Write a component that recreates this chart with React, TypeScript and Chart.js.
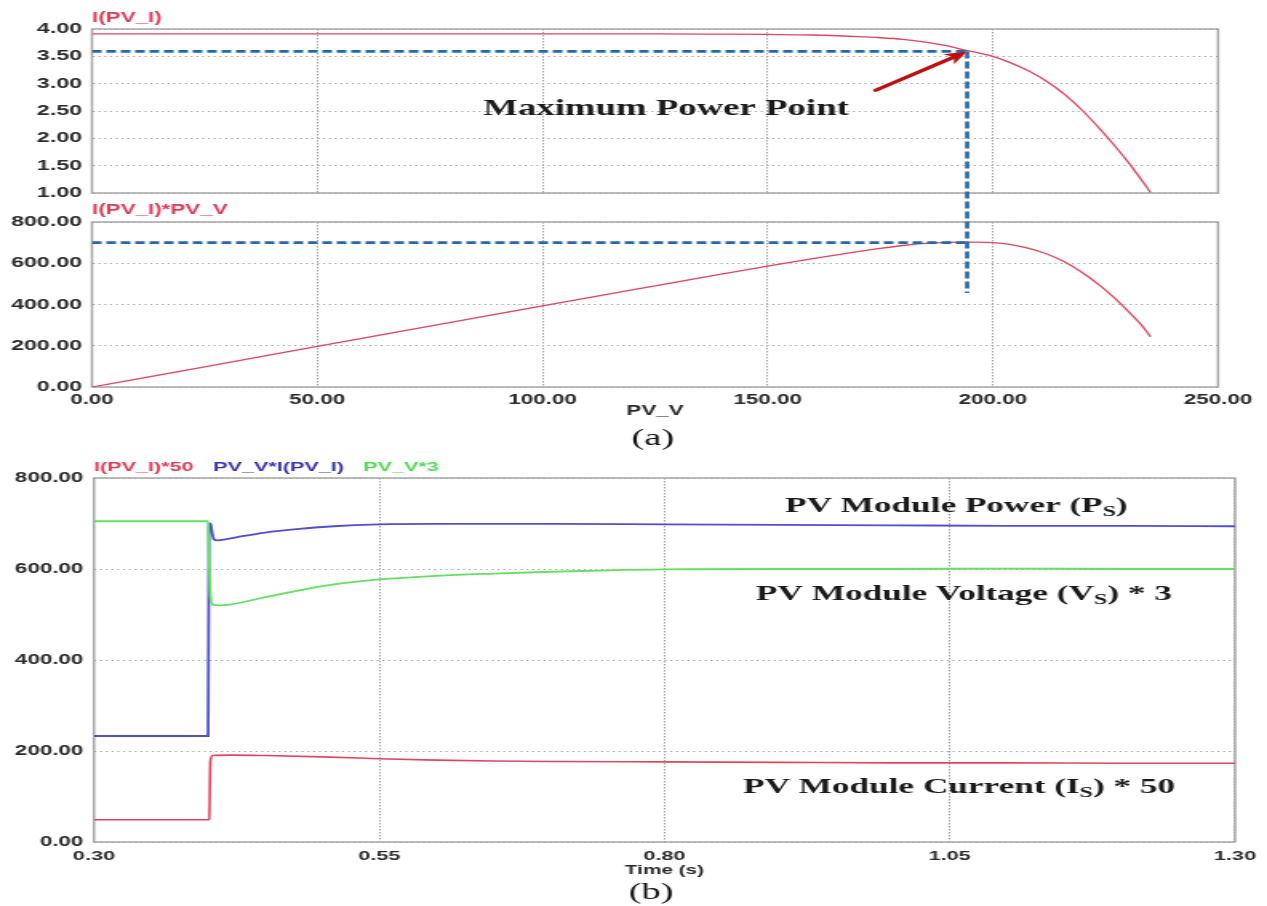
import React, { useEffect, useRef } from 'react';
import { Chart, registerables } from 'chart.js';

Chart.register(...registerables);

// The original figure is horizontally stretched; the canvases are drawn at a
// narrower internal width and displayed at the full page width.
const OUT_W = 1267;
const H = 906;
const W = 792;
const SX = OUT_W / W;
const px = (xRef: number) => xRef / SX;

// ---------------- panel (a): I-V and P-V characteristic ----------------
const PV_V = [0, 25, 50, 75, 100, 125, 140, 150, 160, 170, 175, 180, 185, 190, 194, 197, 200, 204, 208, 212, 216, 220, 224, 227, 230, 233, 235];
const PV_I = [3.91, 3.91, 3.91, 3.91, 3.91, 3.91, 3.905, 3.9, 3.89, 3.86, 3.84, 3.81, 3.76, 3.69, 3.61, 3.56, 3.5, 3.38, 3.23, 3.04, 2.8, 2.5, 2.15, 1.87, 1.57, 1.24, 1.01];
const PV_P = [0, 98, 197, 295, 393, 490, 548, 586, 622, 656, 672, 686, 696, 701, 702, 702, 700, 690, 672, 645, 606, 553, 488, 432, 368, 300, 244];
const V_TICKS = [0, 50, 100, 150, 200, 250];
const I_TICKS = [1, 1.5, 2, 2.5, 3, 3.5, 4];
const P_TICKS = [0, 200, 400, 600, 800];
const MPP_V = 194.3;
const MPP_I = 3.59;
const MPP_P = 700;
const MPP_DROP_P = 456;
const ARROW_TAIL_V = 174;
const ARROW_TAIL_I = 2.88;

// ---------------- panel (b): start-up transients ----------------
const T_CUR = [0.3, 0.4, 0.401, 0.402, 0.404, 0.42, 0.45, 0.5, 0.55, 0.6, 0.65, 0.7, 0.8, 0.9, 1.0, 1.1, 1.2, 1.3];
const CUR50 = [49, 49, 50, 178, 190, 191, 190, 187, 183, 180, 178, 177, 176, 175, 174, 174, 173, 173];
const T_POW = [0.3, 0.4, 0.4008, 0.402, 0.4035, 0.405, 0.408, 0.415, 0.43, 0.45, 0.48, 0.51, 0.55, 0.6, 0.7, 0.8, 0.9, 1.0, 1.1, 1.2, 1.3];
const POW = [233, 233, 690, 700, 680, 666, 663, 665, 672, 680, 688, 694, 698, 699, 699, 698, 697, 696, 695, 695, 694];
const T_VOL = [0.3, 0.4, 0.4008, 0.402, 0.404, 0.41, 0.42, 0.45, 0.48, 0.51, 0.55, 0.6, 0.65, 0.7, 0.75, 0.8, 0.9, 1.0, 1.1, 1.2, 1.3];
const VOL3 = [705, 705, 640, 540, 522, 520, 522, 538, 553, 566, 577, 585, 590, 594, 597, 599, 600, 600, 601, 600, 600];
const T_TICKS = [0.3, 0.55, 0.8, 1.05, 1.3];
const B_TICKS = [0, 200, 400, 600, 800];

// ---------------- styles ----------------
const SANS = "'Liberation Sans', Arial, sans-serif";
const SERIF = "'Liberation Serif', 'Times New Roman', serif";
const RED_LINE = '#e0455e';
const BLUE_LINE = '#4f4fcf';
const GREEN_LINE = '#63df63';
const DASH_BLUE = '#2467ad';
const ARROW_RED = '#bf0d0d';
const TITLE_RED = '#e23a55';
const TITLE_BLUE = '#3535b0';
const TITLE_GREEN = '#4fdc4f';
const TICK = '#2b2b2b';
const GRID = '#a4a4a4';
const BOX = '#a6a6a6';

type Seg = { t: string; sub?: boolean };

function drawSegs(ctx: CanvasRenderingContext2D, x: number, y: number, segs: Seg[], size: number, family: string, weight: string, color: string, align: 'left' | 'center' = 'left') {
  ctx.save();
  ctx.fillStyle = color;
  ctx.textBaseline = 'alphabetic';
  ctx.textAlign = 'left';
  const fontOf = (s: Seg) => `${weight} ${s.sub ? Math.round(size * 0.68) : size}px ${family}`;
  let total = 0;
  for (const s of segs) {
    ctx.font = fontOf(s);
    total += ctx.measureText(s.t).width;
  }
  let cx = align === 'center' ? x - total / 2 : x;
  for (const s of segs) {
    ctx.font = fontOf(s);
    ctx.fillText(s.t, cx, y + (s.sub ? size * 0.2 : 0));
    cx += ctx.measureText(s.t).width;
  }
  ctx.restore();
}

const boxPlugin = {
  id: 'box',
  beforeDatasetsDraw(chart: any) {
    const { ctx, chartArea } = chart;
    const { left, top, right, bottom } = chartArea;
    ctx.save();
    ctx.strokeStyle = BOX;
    ctx.lineWidth = 1.5;
    ctx.setLineDash([]);
    ctx.strokeRect(left, top, right - left, bottom - top);
    ctx.restore();
  },
};

function fixedTicks(values: number[]) {
  return (scale: any) => {
    scale.ticks = values.map((v) => ({ value: v }));
  };
}

function yAxis(min: number, max: number, ticks: number[], width: number, size: number, pad: number) {
  return {
    type: 'linear',
    min,
    max,
    afterBuildTicks: fixedTicks(ticks),
    afterFit: (s: any) => {
      s.width = width;
    },
    grid: { color: GRID, lineWidth: 1, drawTicks: false },
    border: { display: false, dash: [1.2, 2.4] },
    ticks: {
      color: TICK,
      padding: pad,
      font: { family: SANS, size, weight: 'bold' },
      callback: (v: any) => Number(v).toFixed(2),
    },
  };
}

function xAxis(min: number, max: number, ticks: number[], height: number, showLabels: boolean, size: number, pad: number, title?: string, titleSize?: number) {
  return {
    type: 'linear',
    min,
    max,
    afterBuildTicks: fixedTicks(ticks),
    afterFit: (s: any) => {
      s.height = height;
    },
    grid: { color: GRID, lineWidth: 1, drawTicks: false },
    border: { display: false, dash: [1.5, 1.5] },
    ticks: {
      display: showLabels,
      color: TICK,
      padding: pad,
      maxRotation: 0,
      autoSkip: false,
      font: { family: SANS, size, weight: 'bold' },
      callback: (v: any) => Number(v).toFixed(2),
    },
    title: title
      ? { display: true, text: title, color: TICK, padding: 0, font: { family: SANS, size: titleSize, weight: 'bold' } }
      : { display: false },
  };
}

function lineSet(xs: number[], ys: number[], color: string, width: number) {
  return {
    data: xs.map((x, i) => ({ x, y: ys[i] })),
    borderColor: color,
    backgroundColor: color,
    borderWidth: width,
    pointRadius: 0,
    fill: false,
    cubicInterpolationMode: 'monotone',
  };
}

function dashSet(xs: number[], ys: number[]) {
  return {
    data: xs.map((x, i) => ({ x, y: ys[i] })),
    borderColor: DASH_BLUE,
    borderWidth: 2.8,
    borderDash: [6, 3],
    pointRadius: 0,
    fill: false,
    tension: 0,
  };
}

const baseOptions = {
  responsive: false,
  maintainAspectRatio: false,
  animation: false,
  events: [],
  devicePixelRatio: 1,
};

export default function App() {
  const c1 = useRef<HTMLCanvasElement>(null);
  const c2 = useRef<HTMLCanvasElement>(null);
  const c3 = useRef<HTMLCanvasElement>(null);

  useEffect(() => {
    const rightA = W - px(1218);
    // ---- I-V panel ----
    const ch1 = new Chart(c1.current as HTMLCanvasElement, {
      type: 'line',
      data: {
        datasets: [
          dashSet([0, MPP_V], [MPP_I, MPP_I]) as any,
          lineSet(PV_V, PV_I, RED_LINE, 1.3) as any,
        ],
      },
      options: {
        ...(baseOptions as any),
        layout: { padding: { left: 0, top: 29, right: rightA, bottom: H - 193 } },
        plugins: { legend: { display: false }, tooltip: { enabled: false } },
        scales: {
          x: xAxis(0, 250, V_TICKS, 0, false, 14, 5) as any,
          y: yAxis(1, 4, I_TICKS, px(92), 14.5, 6.2) as any,
        },
      },
      plugins: [
        boxPlugin,
        {
          id: 'ivText',
          afterDraw(chart: any) {
            const { ctx, chartArea, scales } = chart;
            drawSegs(ctx, chartArea.left, chartArea.top - 7, [{ t: 'I(PV_I)' }], 14, SANS, 'bold', TITLE_RED);
            drawSegs(ctx, px(483), 115, [{ t: 'Maximum Power Point' }], 23, SERIF, 'bold', '#1a1a1a');
            // arrow pointing to the maximum power point
            const x0 = scales.x.getPixelForValue(ARROW_TAIL_V);
            const y0 = scales.y.getPixelForValue(ARROW_TAIL_I);
            const x1 = scales.x.getPixelForValue(MPP_V);
            const y1 = scales.y.getPixelForValue(MPP_I);
            const ang = Math.atan2(y1 - y0, x1 - x0);
            const hl = 14;
            const hw = 6;
            const bx = x1 - hl * Math.cos(ang);
            const by = y1 - hl * Math.sin(ang);
            ctx.save();
            ctx.strokeStyle = ARROW_RED;
            ctx.fillStyle = ARROW_RED;
            ctx.lineWidth = 3.2;
            ctx.lineCap = 'round';
            ctx.beginPath();
            ctx.moveTo(x0, y0);
            ctx.lineTo(bx + 3 * Math.cos(ang), by + 3 * Math.sin(ang));
            ctx.stroke();
            ctx.beginPath();
            ctx.moveTo(x1, y1);
            ctx.lineTo(bx + hw * Math.sin(ang), by - hw * Math.cos(ang));
            ctx.lineTo(bx + 4 * Math.cos(ang), by + 4 * Math.sin(ang));
            ctx.lineTo(bx - hw * Math.sin(ang), by + hw * Math.cos(ang));
            ctx.closePath();
            ctx.fill();
            ctx.restore();
          },
        } as any,
      ],
    });

    // ---- P-V panel ----
    const ch2 = new Chart(c2.current as HTMLCanvasElement, {
      type: 'line',
      data: {
        datasets: [
          dashSet([0, MPP_V], [MPP_P, MPP_P]) as any,
          lineSet(PV_V, PV_P, RED_LINE, 1.3) as any,
        ],
      },
      options: {
        ...(baseOptions as any),
        layout: { padding: { left: 0, top: 222, right: rightA, bottom: H - 387 - 32.4 } },
        plugins: { legend: { display: false }, tooltip: { enabled: false } },
        scales: {
          x: xAxis(0, 250, V_TICKS, 32.4, true, 14, 5, 'PV_V', 14) as any,
          y: yAxis(0, 800, P_TICKS, px(92), 14.5, 6.2) as any,
        },
      },
      plugins: [
        boxPlugin,
        {
          id: 'pvText',
          afterDraw(chart: any) {
            const { ctx, chartArea, scales } = chart;
            drawSegs(ctx, chartArea.left, chartArea.top - 8.5, [{ t: 'I(PV_I)*PV_V' }], 14, SANS, 'bold', TITLE_RED);
            drawSegs(ctx, px(653), 445, [{ t: '(a)' }], 24, SERIF, 'normal', '#111', 'center');
            // vertical dashed drop line from the I-V MPP down into the P-V panel
            const x = scales.x.getPixelForValue(MPP_V);
            const yTop = ch1.scales.y.getPixelForValue(MPP_I);
            const yBot = scales.y.getPixelForValue(MPP_DROP_P);
            ctx.save();
            ctx.strokeStyle = DASH_BLUE;
            ctx.lineWidth = 2.6;
            ctx.setLineDash([7, 3]);
            ctx.beginPath();
            ctx.moveTo(x, yTop);
            ctx.lineTo(x, yBot);
            ctx.stroke();
            ctx.restore();
          },
        } as any,
      ],
    });

    // ---- time-domain panel ----
    const ch3 = new Chart(c3.current as HTMLCanvasElement, {
      type: 'line',
      data: {
        datasets: [
          lineSet(T_VOL, VOL3, GREEN_LINE, 1.8) as any,
          lineSet(T_POW, POW, BLUE_LINE, 1.8) as any,
          lineSet(T_CUR, CUR50, RED_LINE, 1.6) as any,
        ],
      },
      options: {
        ...(baseOptions as any),
        layout: { padding: { left: 0, top: 478, right: W - px(1235), bottom: H - 842 - 36 } },
        plugins: { legend: { display: false }, tooltip: { enabled: false } },
        scales: {
          x: xAxis(0.3, 1.3, T_TICKS, 36, true, 13.5, 6, 'Time (s)', 13) as any,
          y: yAxis(0, 800, B_TICKS, px(94), 14, 6.6) as any,
        },
      },
      plugins: [
        boxPlugin,
        {
          id: 'tText',
          afterDraw(chart: any) {
            const { ctx, chartArea } = chart;
            const ty = chartArea.top - 7;
            drawSegs(ctx, px(94), ty, [{ t: 'I(PV_I)*50' }], 13.5, SANS, 'bold', TITLE_RED);
            drawSegs(ctx, px(213), ty, [{ t: 'PV_V*I(PV_I)' }], 13.5, SANS, 'bold', TITLE_BLUE);
            drawSegs(ctx, px(363), ty, [{ t: 'PV_V*3' }], 13.5, SANS, 'bold', TITLE_GREEN);
            drawSegs(ctx, px(785), 512, [{ t: 'PV Module Power (P' }, { t: 'S', sub: true }, { t: ')' }], 22, SERIF, 'bold', '#1a1a1a');
            drawSegs(ctx, px(756), 600, [{ t: 'PV Module Voltage (V' }, { t: 'S', sub: true }, { t: ') * 3' }], 22, SERIF, 'bold', '#1a1a1a');
            drawSegs(ctx, px(743), 793, [{ t: 'PV Module Current (I' }, { t: 'S', sub: true }, { t: ') * 50' }], 22, SERIF, 'bold', '#1a1a1a');
            drawSegs(ctx, px(651), 899, [{ t: '(b)' }], 24, SERIF, 'normal', '#111', 'center');
          },
        } as any,
      ],
    });

    return () => {
      ch3.destroy();
      ch2.destroy();
      ch1.destroy();
    };
  }, []);

  const cs: React.CSSProperties = { position: 'absolute', left: 0, top: 0, width: OUT_W, height: H };
  return (
    <div style={{ position: 'absolute', left: 0, top: 0, width: OUT_W, height: H, background: '#fff', overflow: 'hidden' }}>
      <canvas ref={c1} width={W} height={H} style={cs} />
      <canvas ref={c2} width={W} height={H} style={cs} />
      <canvas ref={c3} width={W} height={H} style={cs} />
    </div>
  );
}
